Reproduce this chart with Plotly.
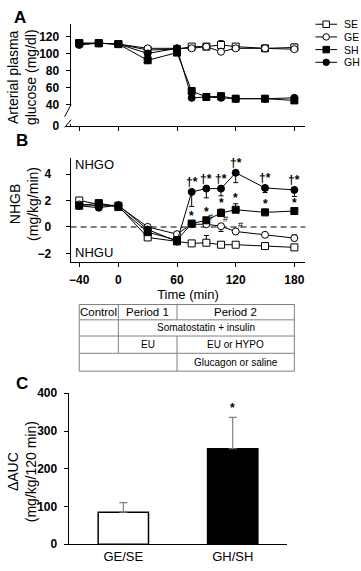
import plotly.graph_objects as go

W, H = 361, 571
FONT = "Liberation Sans, Arial, sans-serif"

# ---------------- data ----------------
times = [-40, -20, 0, 30, 60, 75, 90, 105, 120, 150, 180]
series = ["SE", "GE", "SH", "GH"]

# Panel A: arterial plasma glucose (mg/dl)
glu_SE = [112, 112, 111, 104, 105, 108, 108, 110, 108, 106, 107]
glu_GE = [111, 112, 111, 106, 106, 106, 108, 102, 106, 106, 105]
glu_SH = [112, 112, 111, 92, 101, 56, 49, 50, 47, 47, 45]
glu_GH = [110, 112, 111, 100, 106, 48, 49, 48, 47, 47, 48]
glu_SE_err = [0, 0, 0, 0, 0, 2, 2, 5, 0, 0, 4]
glu_SH_err = [0, 0, 0, 0, 0, 3, 0, 0, 0, 0, 0]

# Panel B: NHGB (mg/kg/min)
nhgb_SE = [2.0, 1.7, 1.6, -0.8, -1.1, -1.25, -1.2, -1.35, -1.35, -1.45, -1.55]
nhgb_GE = [1.7, 1.6, 1.6, 0.0, -0.55, 0.2, 0.2, 0.05, -0.35, -0.6, -0.85]
nhgb_SH = [1.6, 1.8, 1.5, -0.4, -1.0, 0.25, 0.5, 1.05, 1.3, 1.1, 1.2]
nhgb_GH = [1.6, 1.45, 1.65, -0.2, -1.1, 2.65, 2.9, 2.9, 4.1, 2.95, 2.8]
nhgb_SE_up = [0, 0, 0, 0, 0, 0, 0.55, 0, 0, 0, 0]
nhgb_GE_up = [0, 0, 0, 0, 0, 0, 0, 0, 0, 0, 0.25]
nhgb_GE_dn = [0, 0, 0, 0, 0, 0, 0, 0.4, 0, 0, 0]
nhgb_SH_up = [0, 0, 0, 0, 0, 0.1, 0.15, 0.3, 0.45, 0.2, 0.15]
nhgb_GH_dn = [0, 0, 0, 0, 0, 1.1, 0.7, 0.55, 0.75, 0.35, 0.5]

# significance marks
gh_mark_times = [75, 90, 105, 120, 150, 180]
sh_mark_times = [75, 90, 105, 120, 150, 180]
ge_hash_times = [90, 105, 120]

# Panel C: delta AUC
auc_cats = ["GE/SE", "GH/SH"]
auc_vals = [85, 253]
auc_err = [25, 83]

# table
table_bounds = [-40, 0, 60, 180]

# ---------------- helpers ----------------
def px(x):
    return x / W

def py(y):
    return 1 - y / H

styles = {
    "SE": dict(symbol="square", color="white"),
    "GE": dict(symbol="circle", color="white"),
    "SH": dict(symbol="square", color="black"),
    "GH": dict(symbol="circle", color="black"),
}

fig = go.Figure()

def add_series(x, y, name, xa, ya, up=None, dn=None, size=7):
    st = styles[name]
    err = None
    if up is not None or dn is not None:
        upv = up if up is not None else [0] * len(y)
        dnv = dn if dn is not None else [0] * len(y)
        err = dict(type="data", symmetric=False, array=upv, arrayminus=dnv,
                   color="black", thickness=1, width=2.5)
    fig.add_trace(go.Scatter(
        x=x, y=y, mode="lines+markers", name=name, showlegend=False,
        xaxis=xa, yaxis=ya,
        line=dict(color="black", width=1),
        marker=dict(symbol=st["symbol"], size=size, color=st["color"],
                    line=dict(color="black", width=1)),
        error_y=err,
    ))

# Panel A
add_series(times, glu_SE, "SE", "x", "y", up=glu_SE_err)
add_series(times, glu_GE, "GE", "x", "y")
add_series(times, glu_SH, "SH", "x", "y", up=glu_SH_err)
add_series(times, glu_GH, "GH", "x", "y")

# Panel B
add_series(times, nhgb_SE, "SE", "x2", "y2", up=nhgb_SE_up)
add_series(times, nhgb_GE, "GE", "x2", "y2", up=nhgb_GE_up, dn=nhgb_GE_dn)
add_series(times, nhgb_SH, "SH", "x2", "y2", up=nhgb_SH_up)
add_series(times, nhgb_GH, "GH", "x2", "y2", dn=nhgb_GH_dn)

# Panel C
fig.add_trace(go.Bar(
    x=[0, 1], y=auc_vals, xaxis="x3", yaxis="y3", showlegend=False,
    width=0.46,
    marker=dict(color=["white", "black"], line=dict(color="black", width=1.5)),
    error_y=dict(type="data", symmetric=False, array=auc_err,
                 arrayminus=[0, 0], color="#7f7f7f", thickness=1.2, width=4),
))

# Custom legend (compact)
leg_y = [3, 2, 1, 0]
for name, yy in zip(series, leg_y):
    fig.add_trace(go.Scatter(x=[0, 1], y=[yy, yy], mode="lines", xaxis="x4", yaxis="y4",
                             showlegend=False, line=dict(color="black", width=1),
                             hoverinfo="skip"))
    st = styles[name]
    fig.add_trace(go.Scatter(x=[0.5], y=[yy], mode="markers", xaxis="x4", yaxis="y4",
                             showlegend=False, hoverinfo="skip",
                             marker=dict(symbol=st["symbol"], size=6.5, color=st["color"],
                                         line=dict(color="black", width=1))))

xrange_t = [-48.8, 191.2]
tickfont_b = dict(family=FONT, size=12, color="black", weight="bold")

common_x = dict(range=xrange_t, showline=True, linecolor="black", linewidth=1,
                ticks="outside", ticklen=4, tickcolor="black", tickvals=[-40, 0, 60, 120, 180],
                showgrid=False, zeroline=False)
common_y = dict(showline=True, linecolor="black", linewidth=1, ticks="outside",
                ticklen=4, tickcolor="black", showgrid=False, zeroline=False,
                tickfont=tickfont_b)

annotations = []
shapes = []

fig.update_layout(
    xaxis=dict(domain=[px(69), px(305)], anchor="y", showticklabels=False, **common_x),
    yaxis=dict(domain=[py(122), py(17)], anchor="x", range=[15, 135],
               tickvals=[15, 40, 60, 80, 100, 120],
               ticktext=["0", "40", "60", "80", "100", "120"],
               ticklabelstandoff=4, **common_y),
    xaxis2=dict(domain=[px(69), px(305)], anchor="y2", tickfont=tickfont_b,
                title=dict(text="Time (min)", font=dict(family=FONT, size=13, color="black"),
                           standoff=2),
                ticklabelstandoff=2, **common_x),
    yaxis2=dict(domain=[py(261.7), py(155)], anchor="x2", range=[-2.68, 5.2],
                tickvals=[-2, 0, 2, 4], ticklabelstandoff=12, **common_y),
    xaxis3=dict(domain=[px(67), px(287)], anchor="y3", range=[-0.5, 1.5],
                showline=True, linecolor="black", linewidth=1, ticks="",
                tickvals=[0, 1], ticktext=auc_cats, showgrid=False, zeroline=False,
                tickfont=dict(family=FONT, size=13, color="black")),
    yaxis3=dict(domain=[py(550.7), py(396)], anchor="x3", range=[0, 400],
                tickvals=[0, 100, 200, 300, 400], ticklabelstandoff=4, **common_y),
    xaxis4=dict(domain=[px(315), px(337)], anchor="y4", range=[0, 1], visible=False),
    yaxis4=dict(domain=[py(64), py(10)], anchor="x4", range=[-0.56, 3.59], visible=False),
)

# legend labels
for name, yy in zip(series, leg_y):
    annotations.append(dict(x=px(342), y=yy, xref="paper", yref="y4", text=name,
                            showarrow=False, xanchor="left", yanchor="middle",
                            font=dict(family=FONT, size=10.5, color="black")))

# Panel letters
for letter, yy, xx in [("A", 11, 10), ("B", 137, 12), ("C", 386, 12)]:
    annotations.append(dict(x=px(xx), y=py(yy), xref="paper", yref="paper", text=letter,
                            showarrow=False, xanchor="left", yanchor="middle",
                            font=dict(family=FONT, size=17, color="black", weight="bold")))

# Y axis titles
ytitle_font = dict(family=FONT, size=14, color="black")
for txt, cx, cy in [("Arterial plasma<br>glucose (mg/dl)", 20, 72),
                    ("NHGB<br>(mg/kg/min)", 22, 202),
                    ("ΔAUC<br>(mg/kg/120 min)", 20, 476)]:
    annotations.append(dict(x=px(cx), y=py(cy), xref="paper", yref="paper", text=txt,
                            showarrow=False, textangle=-90, xanchor="center",
                            yanchor="middle", font=ytitle_font))

# NHGO / NHGU
for txt, yy in [("NHGO", 161), ("NHGU", 252)]:
    annotations.append(dict(x=px(71), y=py(yy), xref="paper", yref="paper", text=txt,
                            showarrow=False, xanchor="left", yanchor="middle",
                            font=dict(family=FONT, size=13, color="black")))

# significance marks panel B
mark_font = dict(family=FONT, size=12, color="black", weight="bold")
for t in gh_mark_times:
    i = times.index(t)
    annotations.append(dict(x=t, y=nhgb_GH[i], xref="x2", yref="y2", text="†*",
                            showarrow=False, yanchor="bottom", yshift=1, font=mark_font))
for t in sh_mark_times:
    i = times.index(t)
    annotations.append(dict(x=t, y=nhgb_SH[i] + nhgb_SH_up[i], xref="x2", yref="y2",
                            text="*", showarrow=False, yanchor="bottom", yshift=-3,
                            font=mark_font))
for t in ge_hash_times:
    i = times.index(t)
    annotations.append(dict(x=t, y=nhgb_GE[i], xref="x2", yref="y2", text="#",
                            showarrow=False, xanchor="left", yanchor="bottom",
                            xshift=0, yshift=0, font=dict(family=FONT, size=9, color="black")))

# star panel C
annotations.append(dict(x=1, y=auc_vals[1] + auc_err[1], xref="x3", yref="y3", text="*",
                        showarrow=False, yanchor="bottom", yshift=0, font=mark_font))

# dashed zero line panel B
shapes.append(dict(type="line", xref="x2 domain", yref="y2", x0=0, x1=1, y0=0, y1=0,
                   line=dict(color="#555", width=1.5, dash="6px,4px"), layer="below"))

# axis break panel A
shapes.append(dict(type="rect", xref="paper", yref="paper", x0=px(65), x1=px(72),
                   y0=py(120), y1=py(101), fillcolor="white", line=dict(width=0)))
shapes.append(dict(type="line", xref="paper", yref="paper", x0=px(63), y0=py(112.5),
                   x1=px(69.5), y1=py(100), line=dict(color="black", width=1)))
shapes.append(dict(type="line", xref="paper", yref="paper", x0=px(63), y0=py(123.5),
                   x1=px(69.5), y1=py(115.5), line=dict(color="black", width=1)))

# table (columns aligned to time axis)
rows = [305, 320.7, 337.3, 355, 373.3]
tcol = "#808080"
c0, c1, c2, c3 = table_bounds
def hline(x0, x1, y):
    shapes.append(dict(type="line", xref="x2", yref="paper", x0=x0, x1=x1,
                       y0=py(y), y1=py(y), line=dict(color=tcol, width=1)))
def vline(x, ya, yb):
    shapes.append(dict(type="line", xref="x2", yref="paper", x0=x, x1=x,
                       y0=py(ya), y1=py(yb), line=dict(color=tcol, width=1)))
for r in rows:
    hline(c0, c3, r)
vline(c0, rows[0], rows[4])
vline(c3, rows[0], rows[4])
vline(c1, rows[0], rows[3])
vline(c2, rows[0], rows[1])
vline(c2, rows[2], rows[4])

def cell(txt, xa, xb, ra, rb, size=10):
    annotations.append(dict(x=(xa + xb) / 2, y=py((ra + rb) / 2), xref="x2", yref="paper",
                            text=txt, showarrow=False, xanchor="center", yanchor="middle",
                            font=dict(family=FONT, size=size, color="black")))
cell("Control", c0, c1, rows[0], rows[1], 11.5)
cell("Period 1", c1, c2, rows[0], rows[1], 11.5)
cell("Period 2", c2, c3, rows[0], rows[1], 11.5)
cell("Somatostatin + insulin", c1, c3, rows[1], rows[2])
cell("EU", c1, c2, rows[2], rows[3])
cell("EU or HYPO", c2, c3, rows[2], rows[3])
cell("Glucagon or saline", c2, c3, rows[3], rows[4])

fig.update_layout(
    width=W, height=H, autosize=False,
    margin=dict(l=0, r=0, t=0, b=0),
    paper_bgcolor="white", plot_bgcolor="white",
    font=dict(family=FONT, color="black"),
    annotations=annotations, shapes=shapes,
    showlegend=False,
)

fig.write_html(
    "out.html",
    config={"displayModeBar": False},
    post_script="document.body.style.margin='0';document.body.style.padding='0';"
                "document.body.style.overflow='hidden';",
)
